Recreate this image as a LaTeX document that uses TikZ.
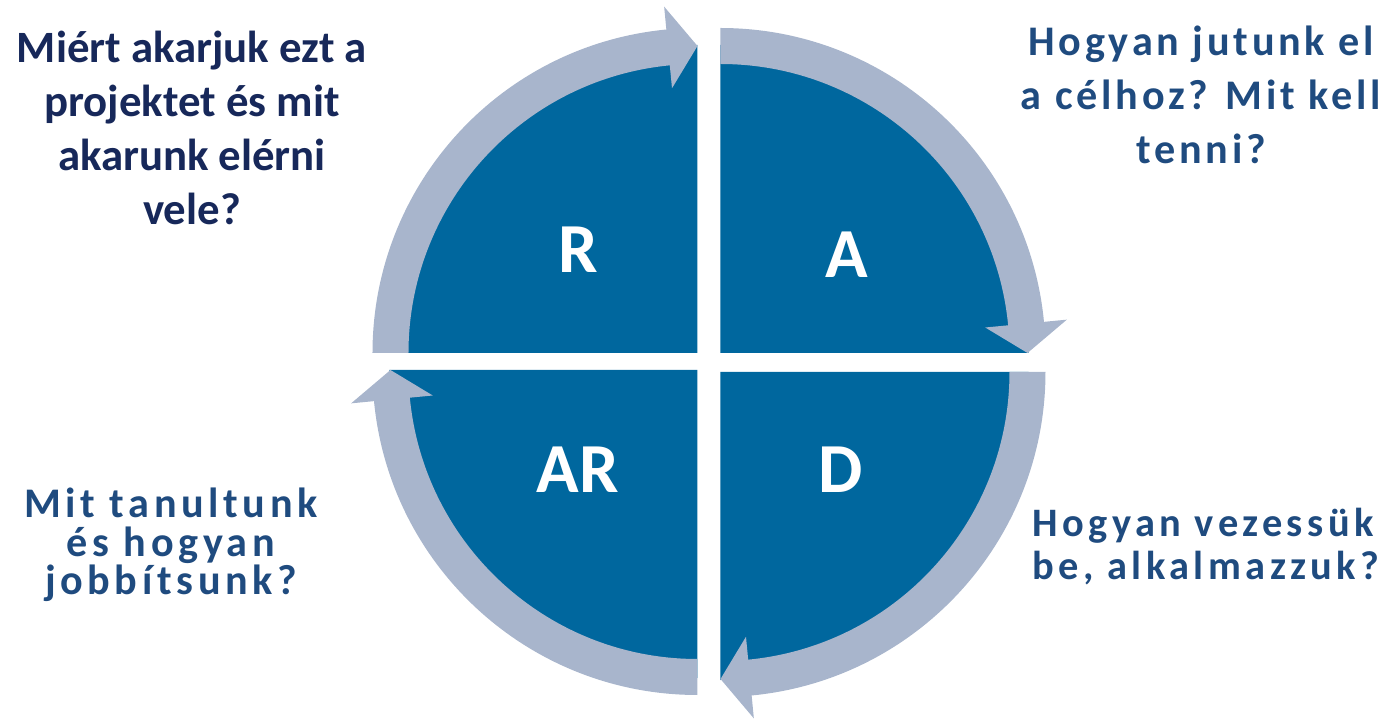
\documentclass[tikz,border=0pt]{standalone}
\usepackage{fontspec}
\setmainfont{Carlito}
\newfontfamily\widefont[LetterSpace=9]{Carlito}
\newfontfamily\widerfont[LetterSpace=11]{Carlito}
\definecolor{quadblue}{RGB}{0,103,158}
\definecolor{ringgray}{RGB}{168,181,204}
\definecolor{darknavy}{RGB}{23,40,90}
\definecolor{textnavy}{RGB}{31,75,127}

\begin{document}
\begin{tikzpicture}[x=0.02cm,y=0.02cm,quadrant/.style={fill=quadblue},ring/.style={fill=ringgray},letter/.style={text=white,inner sep=0pt,font=\fontsize{40}{40}\selectfont\bfseries},question/.style={align=center,inner sep=0pt,text=textnavy}]

	\useasboundingbox (-709,-361) rectangle (681,362);

	\begin{scope}[shift={(-11.5,9)}]
		\fill[quadrant] (0,0) -- (180:308) arc[start angle=180,end angle=90,radius=308] -- cycle;
		\fill[ring] (180:325) arc[start angle=180,end angle=95.5,radius=325] -- (95.5:348) -- (90:307) -- (95.5:266) -- (95.5:289) arc[start angle=95.5,end angle=180,radius=289] -- cycle;
	\end{scope}

	\begin{scope}[shift={(11.5,9)}]
		\fill[quadrant] (0,0) -- (90:308) arc[start angle=90,end angle=0,radius=308] -- cycle;
		\fill[ring] (90:325) arc[start angle=90,end angle=5.5,radius=325] -- (5.5:348) -- (0:307) -- (5.5:266) -- (5.5:289) arc[start angle=5.5,end angle=90,radius=289] -- cycle;
	\end{scope}

	\begin{scope}[shift={(11.5,-10)}]
		\fill[quadrant] (0,0) -- (0:308) arc[start angle=0,end angle=-90,radius=308] -- cycle;
		\fill[ring] (0:325) arc[start angle=0,end angle=-84.5,radius=325] -- (-84.5:348) -- (-90:307) -- (-84.5:266) -- (-84.5:289) arc[start angle=-84.5,end angle=0,radius=289] -- cycle;
	\end{scope}

	\begin{scope}[shift={(-11.5,-8)}]
		\fill[quadrant] (0,0) -- (270:308) arc[start angle=270,end angle=180,radius=308] -- cycle;
		\fill[ring] (270:325) arc[start angle=270,end angle=185.5,radius=325] -- (185.5:348) -- (180:307) -- (185.5:266) -- (185.5:289) arc[start angle=185.5,end angle=270,radius=289] -- cycle;
	\end{scope}

	\node[letter] (letter-r) at (-131,112) {R};
	\node[letter] (letter-a) at (138,107) {A};
	\node[letter] (letter-d) at (132,-108) {D};
	\node[letter] (letter-ar) at (-131,-108) {AR};

	\node[question, text=darknavy, font=\fontsize{25.5}{30.7}\selectfont\bfseries] (why) at (-517,234) {Miért akarjuk ezt a\\ projektet és mit\\ akarunk elérni\\ vele?};
	\node[question, font=\widefont\fontsize{24}{30.7}\selectfont\bfseries] (how) at (492,267) {Hogyan jutunk el\\ a célhoz? Mit kell\\ tenni?};
	\node[question, align=left, font=\widerfont\fontsize{23}{24.5}\selectfont\bfseries] (apply) at (497,-185) {Hogyan vezessük\\ be, alkalmazzuk?};
	\node[question, font=\widerfont\fontsize{24}{22}\selectfont\bfseries] (learn) at (-538,-183) {Mit tanultunk\\ és hogyan\\ jobbítsunk?};

\end{tikzpicture}
\end{document}
